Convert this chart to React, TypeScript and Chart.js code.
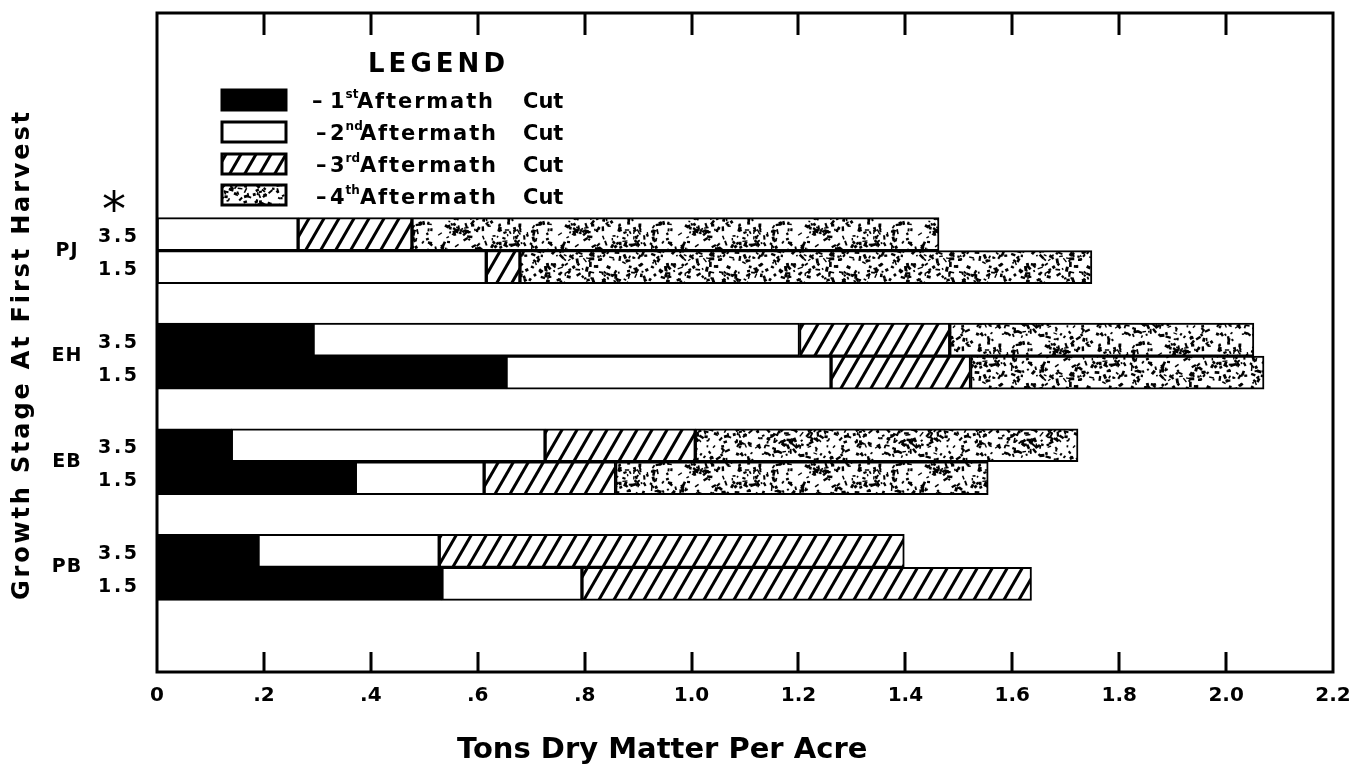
import React, { useEffect, useRef } from 'react';
import { Chart, registerables } from 'chart.js';

Chart.register(...registerables);

// ---------- data ----------
const GROUPS = ['PJ', 'EH', 'EB', 'PB'];
const HEIGHTS = ['3.5', '1.5'];
// bars in order: PJ 3.5, PJ 1.5, EH 3.5, EH 1.5, EB 3.5, EB 1.5, PB 3.5, PB 1.5
const CUT1 = [0, 0, 0.292, 0.653, 0.139, 0.371, 0.189, 0.533];
const CUT2 = [0.264, 0.616, 0.91, 0.608, 0.587, 0.241, 0.339, 0.262];
const CUT3 = [0.213, 0.063, 0.281, 0.261, 0.281, 0.246, 0.87, 0.841];
const CUT4 = [0.986, 1.07, 0.569, 0.549, 0.716, 0.697, 0, 0];
const X_TICKS = [0, 0.2, 0.4, 0.6, 0.8, 1.0, 1.2, 1.4, 1.6, 1.8, 2.0, 2.2];
const X_TICK_LABELS = ['0', '.2', '.4', '.6', '.8', '1.0', '1.2', '1.4', '1.6', '1.8', '2.0', '2.2'];
const LEGEND_NUMS = ['1', '2', '3', '4'];
const LEGEND_SUFFIX = ['st', 'nd', 'rd', 'th'];
const LEGEND_TEXT = 'Aftermath';
const LEGEND_CUT = 'Cut';
const LEGEND_TITLE = 'LEGEND';
const X_TITLE = 'Tons Dry Matter Per Acre';
const Y_TITLE = 'Growth Stage At First Harvest';

// ---------- layout constants ----------
const GROUP_SPAN = 3.2;
const Y_MIN = -6.7;
const Y_MAX = 13.27;
const FONT = '"DejaVu Sans", sans-serif';

function makeHatch(): CanvasPattern | string {
  const W = 15, H = 26;
  const c = document.createElement('canvas');
  c.width = W; c.height = H;
  const g = c.getContext('2d');
  if (!g) return '#fff';
  g.fillStyle = '#fff';
  g.fillRect(0, 0, W, H);
  g.strokeStyle = '#000';
  g.lineWidth = 3;
  for (let k = -1; k <= 1; k++) {
    g.beginPath();
    g.moveTo(k * W - W * 0.5, H * 1.5);
    g.lineTo(k * W + W * 1.5, -H * 0.5);
    g.stroke();
  }
  return g.createPattern(c, 'repeat') || '#fff';
}

function makeStipple(): CanvasPattern | string {
  const S = 120;
  const c = document.createElement('canvas');
  c.width = S; c.height = S;
  const g = c.getContext('2d');
  if (!g) return '#fff';
  g.fillStyle = '#fff';
  g.fillRect(0, 0, S, S);
  g.fillStyle = '#000';
  let seed = 987654321;
  const rnd = () => {
    seed = (Math.imul(seed, 1664525) + 1013904223) >>> 0;
    return seed / 4294967296;
  };
  for (let i = 0; i < 560; i++) {
    const x = rnd() * S, y = rnd() * S;
    const w = 1.3 + rnd() * 1.7, h = 1.6 + rnd() * 3.8, a = rnd() * Math.PI;
    for (const dx of [-S, 0, S]) {
      for (const dy of [-S, 0, S]) {
        g.save();
        g.translate(x + dx, y + dy);
        g.rotate(a);
        g.fillRect(-w / 2, -h / 2, w, h);
        g.restore();
      }
    }
  }
  return g.createPattern(c, 'repeat') || '#fff';
}

// draw text left-aligned from x so that it spans the given width
function fitText(ctx: CanvasRenderingContext2D, text: string, x: number, y: number, width: number) {
  (ctx as any).letterSpacing = '0px';
  const w0 = ctx.measureText(text).width;
  const n = text.length;
  const ls = n > 1 ? Math.max(0, (width - w0) / (n - 1)) : 0;
  (ctx as any).letterSpacing = `${ls}px`;
  ctx.fillText(text, x, y);
  (ctx as any).letterSpacing = '0px';
}

export default function App() {
  const ref = useRef<HTMLCanvasElement | null>(null);

  useEffect(() => {
    if (!ref.current) return;
    const hatch = makeHatch();
    const stipple = makeStipple();
    const fills: (string | CanvasPattern)[] = ['#000', '#fff', hatch, stipple];
    const cuts = [CUT1, CUT2, CUT3, CUT4];

    const positions: number[] = [];
    GROUPS.forEach((_, g) => HEIGHTS.forEach((__, s) => positions.push(g * GROUP_SPAN + s)));

    const datasets = cuts.map((vals, ci) => ({
      label: `${LEGEND_NUMS[ci]}${LEGEND_SUFFIX[ci]} ${LEGEND_TEXT} ${LEGEND_CUT}`,
      data: vals.map((v, i) => ({ x: v, y: positions[i] })),
      backgroundColor: fills[ci],
      borderColor: '#000',
      borderWidth: 2,
      borderSkipped: false,
      barThickness: 33,
      stack: 'all',
    }));

    const decor = {
      id: 'decor',
      afterDraw(chart: any) {
        const ctx: CanvasRenderingContext2D = chart.ctx;
        const { left, right, top, bottom } = chart.chartArea;
        const xs = chart.scales.x;
        const ys = chart.scales.y;
        ctx.save();
        ctx.strokeStyle = '#000';
        ctx.fillStyle = '#000';
        // frame
        ctx.lineWidth = 3;
        ctx.strokeRect(left, top, right - left, bottom - top);
        // inner tick marks
        X_TICKS.slice(1, -1).forEach((v) => {
          const px = Math.round(xs.getPixelForValue(v));
          ctx.beginPath();
          ctx.moveTo(px, top);
          ctx.lineTo(px, top + 22);
          ctx.moveTo(px, bottom);
          ctx.lineTo(px, bottom - 20);
          ctx.stroke();
        });

        // legend
        ctx.textBaseline = 'alphabetic';
        ctx.textAlign = 'left';
        ctx.font = `bold 26px ${FONT}`;
        fitText(ctx, LEGEND_TITLE, 368, 72, 137);
        const swTops = [90, 122, 154, 185];
        const baselines = [108, 140, 172, 204];
        fills.forEach((f, i) => {
          ctx.fillStyle = f as any;
          ctx.fillRect(222, swTops[i], 64, 20);
          ctx.lineWidth = 3;
          ctx.strokeStyle = '#000';
          ctx.strokeRect(222, swTops[i], 64, 20);
          ctx.fillStyle = '#000';
          const b = baselines[i];
          const off = i === 0 ? 0 : 4;
          ctx.font = `bold 21px ${FONT}`;
          ctx.fillText('\u2013', 312 + off, b);
          ctx.fillText(LEGEND_NUMS[i], 330, b);
          const nw = ctx.measureText(LEGEND_NUMS[i]).width;
          ctx.font = `bold 12px ${FONT}`;
          ctx.fillText(LEGEND_SUFFIX[i], 330 + nw + 1, b - 10);
          ctx.font = `bold 21px ${FONT}`;
          fitText(ctx, LEGEND_TEXT, i === 0 ? 357 : 360, b, 136);
          fitText(ctx, LEGEND_CUT, 523, b, 38);
        });

        // y-side labels
        ctx.font = `bold 19px ${FONT}`;
        ctx.textBaseline = 'middle';
        ctx.textAlign = 'left';
        GROUPS.forEach((_, g) => {
          HEIGHTS.forEach((h, s) => {
            const py = ys.getPixelForValue(g * GROUP_SPAN + s);
            fitText(ctx, h, 98, py + 3, 39);
          });
        });
        ctx.textAlign = 'center';
        (ctx as any).letterSpacing = '1px';
        GROUPS.forEach((name, g) => {
          const py = ys.getPixelForValue(g * GROUP_SPAN + 0.5);
          ctx.fillText(name, 67, py);
        });
        (ctx as any).letterSpacing = '0px';
        ctx.font = `48px ${FONT}`;
        ctx.fillText('*', 114, ys.getPixelForValue(-1) + 12);

        // axis titles
        ctx.textAlign = 'left';
        ctx.textBaseline = 'middle';
        ctx.font = `bold 29px ${FONT}`;
        fitText(ctx, X_TITLE, 457, 750, 408);

        ctx.save();
        ctx.translate(23, 600);
        ctx.rotate(-Math.PI / 2);
        ctx.font = `bold 24px ${FONT}`;
        ctx.textAlign = 'left';
        fitText(ctx, Y_TITLE, 0, 0, 488);
        ctx.restore();

        ctx.restore();
      },
    };

    const chart = new Chart(ref.current, {
      type: 'bar',
      data: { datasets: datasets as any },
      options: {
        indexAxis: 'y',
        animation: false,
        responsive: false,
        maintainAspectRatio: false,
        layout: { padding: { left: 0, top: 13, right: 30, bottom: 0 } },
        plugins: {
          legend: { display: false },
          tooltip: { enabled: false },
          title: { display: false },
        },
        scales: {
          x: {
            type: 'linear',
            position: 'bottom',
            min: 0,
            max: 2.2,
            stacked: true,
            grid: { display: false, drawTicks: false },
            border: { display: false },
            afterBuildTicks: (s: any) => {
              s.ticks = X_TICKS.map((v) => ({ value: v }));
            },
            afterFit: (s: any) => {
              s.height = 92;
            },
            ticks: {
              padding: 12,
              color: '#000',
              font: { family: FONT, size: 20, weight: 'bold' },
              maxRotation: 0,
              autoSkip: false,
              callback: (_v: any, i: number) => X_TICK_LABELS[i],
            },
          },
          y: {
            type: 'linear',
            reverse: true,
            offset: false,
            min: Y_MIN,
            max: Y_MAX,
            grid: { display: false, drawTicks: false, offset: false },
            border: { display: false },
            ticks: { display: false },
            afterFit: (s: any) => {
              s.width = 157;
            },
          },
        },
      },
      plugins: [decor],
    });

    return () => chart.destroy();
  }, []);

  return (
    <div style={{ position: 'absolute', left: 0, top: 0, width: 1363, height: 764, background: '#fff' }}>
      <canvas ref={ref} width={1363} height={764} style={{ width: 1363, height: 764, display: 'block' }} />
    </div>
  );
}
